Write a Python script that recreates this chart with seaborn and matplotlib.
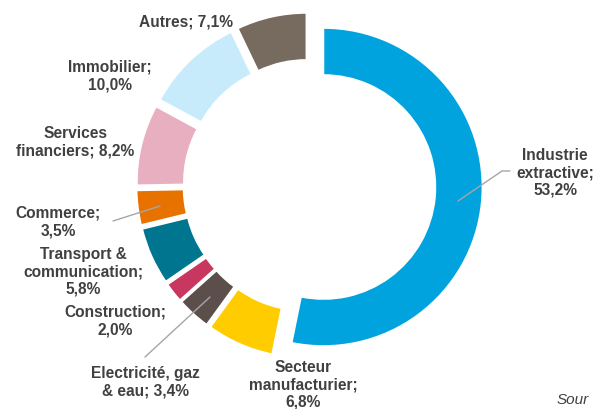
import matplotlib
matplotlib.use("Agg")
import matplotlib.pyplot as plt
import seaborn as sns

sns.set_theme(style="white")
plt.rcParams['font.family'] = ['Liberation Sans', 'DejaVu Sans']

# data, clockwise from 12 o'clock
sectors = ['Industrie extractive', 'Secteur manufacturier', 'Electricité, gaz & eau',
           'Construction', 'Transport & communication', 'Commerce',
           'Services financiers', 'Immobilier', 'Autres']
shares = [53.2, 6.8, 3.4, 2.0, 5.8, 3.5, 8.2, 10.0, 7.1]
label_texts = ['Industrie\nextractive;\n53,2%', 'Secteur\nmanufacturier;\n6,8%',
               'Electricité, gaz\n& eau; 3,4%', 'Construction;\n2,0%',
               'Transport &\ncommunication;\n5,8%', 'Commerce;\n3,5%',
               'Services\nfinanciers; 8,2%', 'Immobilier;\n10,0%', 'Autres; 7,1%']
colors = ['#00A3DE', '#FFCC00', '#5C4F4B', '#C8375F', '#00758F',
          '#E87200', '#E8AFC1', '#C7EBFA', '#776A5F']

W, H = 595, 410
fig = plt.figure(figsize=(W / 100, H / 100), dpi=100)
ax = fig.add_axes([0, 0, 1, 1])
ax.axis('off')

ax.pie(shares, colors=colors, startangle=90, counterclock=False,
       center=(309.5, H - 186.6), radius=159, explode=[14] * len(shares),
       wedgeprops=dict(width=47, edgecolor='white', linewidth=1.2))
ax.set_xlim(0, W)
ax.set_ylim(0, H)
ax.set_aspect('equal')

# label positions in pixel coords (x, y from top)
label_pos = [(555, 173), (303, 385), (145, 382), (115, 321), (83, 272),
             (58, 222), (75, 142), (110, 76), (186, 22)]
for txt, (lx, ly) in zip(label_texts, label_pos):
    ax.text(lx, H - ly, txt, ha='center', va='center', fontsize=11.2,
            fontweight='bold', color='#404040', linespacing=1.2)

# leader lines
leaders = [[(458, 202), (502, 172), (510, 172)],
           [(113, 222), (160, 207)],
           [(145, 358), (210, 298)]]
for pts in leaders:
    ax.plot([p[0] for p in pts], [H - p[1] for p in pts], color='#A6A6A6', lw=1)

# source note, cut at the right edge in the original
ax.text(557, H - 400, 'Sour', ha='left', va='center', fontsize=11,
        style='italic', color='#404040')

fig.savefig('out.png', dpi=100)
